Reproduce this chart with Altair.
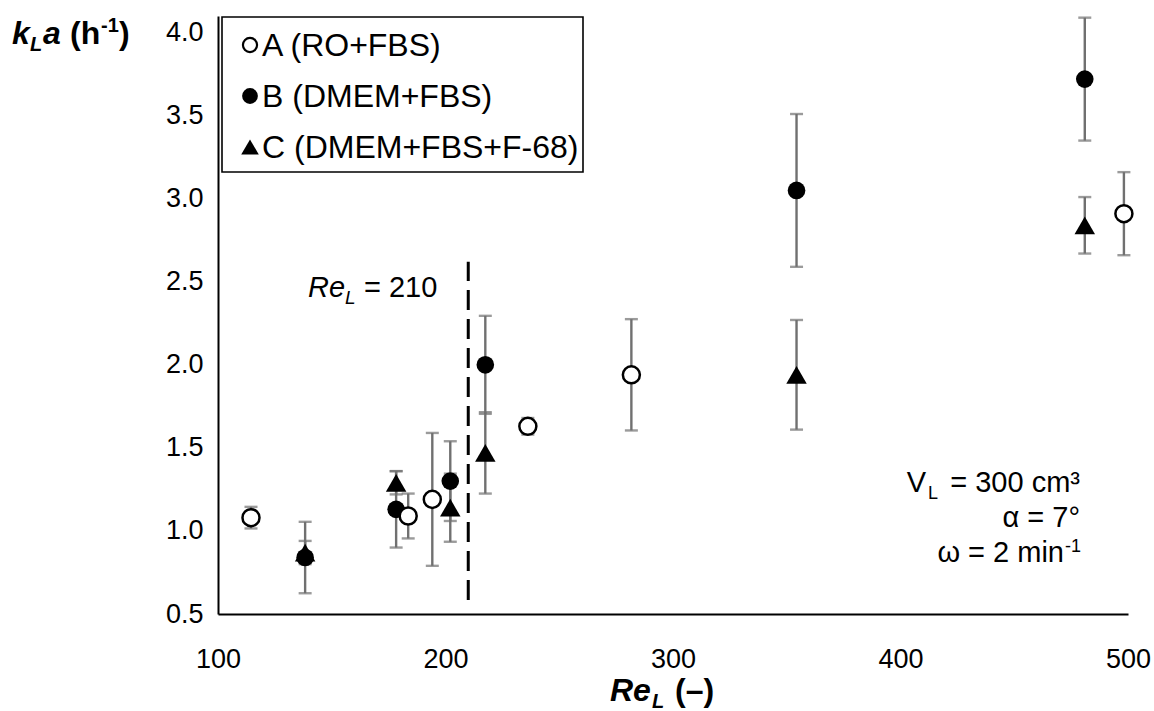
import altair as alt
import pandas as pd

FONT = "Liberation Sans"

# Re_L and measured kLa (mean, standard deviation) for each medium
re_a = [114.5, 183.6, 194.2, 236.2, 281.7, 498.2]
kla_a = [1.08, 1.09, 1.19, 1.63, 1.94, 2.91]
sd_a = [0.065, 0.135, 0.40, 0.05, 0.335, 0.25]

re_b = [138.3, 178.3, 202.1, 217.5, 354.3, 481.0]
kla_b = [0.84, 1.13, 1.30, 2.00, 3.05, 3.72]
sd_b = [0.215, 0.23, 0.24, 0.295, 0.46, 0.37]

re_c = [138.3, 178.3, 202.1, 217.5, 354.3, 481.0]
kla_c = [0.87, 1.29, 1.14, 1.47, 1.94, 2.84]
sd_c = [0.07, 0.07, 0.205, 0.245, 0.33, 0.17]

series_names = ["A (RO+FBS)", "B (DMEM+FBS)", "C (DMEM+FBS+F-68)"]

x_ticks = [100, 200, 300, 400, 500]
y_ticks = [0.5, 1.0, 1.5, 2.0, 2.5, 3.0, 3.5, 4.0]
x_domain = [100, 500]
y_domain = [0.5, 4.1]

# critical Reynolds number marker line
re_crit = [210]
crit_low = [0.585]
crit_high = [2.62]

frames = []
for key, xs, ys, sds in [("A", re_a, kla_a, sd_a), ("B", re_b, kla_b, sd_b), ("C", re_c, kla_c, sd_c)]:
    f = pd.DataFrame({"re": xs, "kla": ys, "sd": sds})
    f["series"] = key
    frames.append(f)
df = pd.concat(frames, ignore_index=True)
df["lo"] = df["kla"] - df["sd"]
df["hi"] = df["kla"] + df["sd"]

# plot-area origin inside the 1154x711 canvas
X0, Y0 = 218, 16
W, H = 910, 598
ERR = "#707070"

xs_scale = alt.Scale(domain=x_domain, nice=False, zero=False)
ys_scale = alt.Scale(domain=y_domain, nice=False, zero=False)
x_axis = alt.Axis(title=None, values=x_ticks, format="d", labelPadding=32, labelFlush=False)
y_axis = alt.Axis(title=None, values=y_ticks, format=".1f", labelPadding=15, labelFlush=False)


def X(field):
    return alt.X(field, type="quantitative", scale=xs_scale, axis=x_axis)


def Y(field):
    return alt.Y(field, type="quantitative", scale=ys_scale, axis=y_axis)


base = alt.Chart(df)

err_rule = base.mark_rule(color=ERR, strokeWidth=2.4).encode(x=X("re"), y=Y("lo"), y2="hi:Q")
cap_lo = base.mark_tick(orient="horizontal", size=13, thickness=2.4, color=ERR).encode(x=X("re"), y=Y("lo"))
cap_hi = base.mark_tick(orient="horizontal", size=13, thickness=2.4, color=ERR).encode(x=X("re"), y=Y("hi"))

crit_df = pd.DataFrame({"re": re_crit, "lo": crit_low, "hi": crit_high})
crit_line = alt.Chart(crit_df).mark_rule(color="black", strokeWidth=3, strokeDash=[20, 9]).encode(
    x=X("re"), y=Y("lo"), y2="hi:Q"
)

pts_b = base.transform_filter("datum.series == 'B'").mark_point(
    shape="circle", filled=True, size=310, color="black", opacity=1
).encode(x=X("re"), y=Y("kla"))
pts_c = base.transform_filter("datum.series == 'C'").mark_point(
    shape="triangle-up", filled=True, size=420, color="black", opacity=1
).encode(x=X("re"), y=Y("kla"))
pts_a = base.transform_filter("datum.series == 'A'").mark_point(
    shape="circle", filled=False, size=290, fill="white", stroke="black", strokeWidth=2.5, opacity=1
).encode(x=X("re"), y=Y("kla"))


def label(text, x, y, size=28, weight="normal", style="normal", align="left"):
    return alt.Chart(alt.Data(values=[{"t": text}])).mark_text(
        font=FONT, fontSize=size, fontWeight=weight, fontStyle=style,
        align=align, baseline="alphabetic", color="black"
    ).encode(x=alt.value(x - X0), y=alt.value(y - Y0), text="t:N")


def symbol(shape, x, y, size, filled):
    if filled:
        m = alt.Chart(alt.Data(values=[{}])).mark_point(
            shape=shape, filled=True, size=size, color="black", opacity=1)
    else:
        m = alt.Chart(alt.Data(values=[{}])).mark_point(
            shape=shape, filled=False, size=size, fill="white", stroke="black", strokeWidth=2.2, opacity=1)
    return m.encode(x=alt.value(x - X0), y=alt.value(y - Y0))


# legend box
legend_box = alt.Chart(alt.Data(values=[{}])).mark_rect(
    fill="white", stroke="black", strokeWidth=1.6
).encode(
    x=alt.value(222 - X0), x2=alt.value(583 - X0), y=alt.value(17 - Y0), y2=alt.value(172 - Y0)
)
legend_rows = [45, 96, 147]
legend_layers = [
    legend_box,
    symbol("circle", 250, legend_rows[0], 200, False),
    symbol("circle", 250, legend_rows[1], 250, True),
    symbol("triangle-up", 250, legend_rows[2], 310, True),
]
for name, yy in zip(series_names, legend_rows):
    legend_layers.append(label(name, 262, yy + 11, size=32))

# axis titles built from styled pieces (subscripts / superscripts)
ytitle = [
    label("k", 12, 44, 32, "bold", "italic"),
    label("L", 30, 51, 20, "bold", "italic"),
    label("a", 43, 44, 32, "bold", "italic"),
    label("(h", 70, 44, 32, "bold"),
    label("-1", 101, 32, 20, "bold"),
    label(")", 119, 44, 32, "bold"),
]
xtitle = [
    label("Re", 610, 701, 32, "bold", "italic"),
    label("L", 652, 708, 20, "bold", "italic"),
    label("(–)", 675, 701, 32, "bold"),
]

# annotation next to the critical Re line
crit_text = [
    label("Re", 308, 297, 29, "normal", "italic"),
    label("L", 345, 304, 19, "normal", "italic"),
    label("= 210", 364, 297, 29),
]

# operating conditions
cond_text = [
    label("V", 926, 492, 29, align="right"),
    label("L", 928, 499, 18),
    label("= 300 cm³", 1080, 492, 29, align="right"),
    label("α = 7°", 1080, 527, 29, align="right"),
    label("ω = 2 min", 1064, 562, 29, align="right"),
    label("-1", 1065, 552, 18),
]

chart = alt.layer(
    err_rule, cap_lo, cap_hi, crit_line, pts_b, pts_c, pts_a,
    *legend_layers, *ytitle, *xtitle, *crit_text, *cond_text
).properties(
    width=W, height=H,
    autosize=alt.AutoSizeParams(type="none"),
    padding={"left": X0, "top": Y0, "right": 1154 - X0 - W, "bottom": 711 - Y0 - H},
    background="white",
).configure_view(stroke=None).configure_axis(
    domainColor="black", domainWidth=2, ticks=False, tickSize=0, grid=False,
    labelFont=FONT, labelFontSize=27, labelColor="black",
)

chart.save("out.html", embed_options={"renderer": "svg", "actions": False})
